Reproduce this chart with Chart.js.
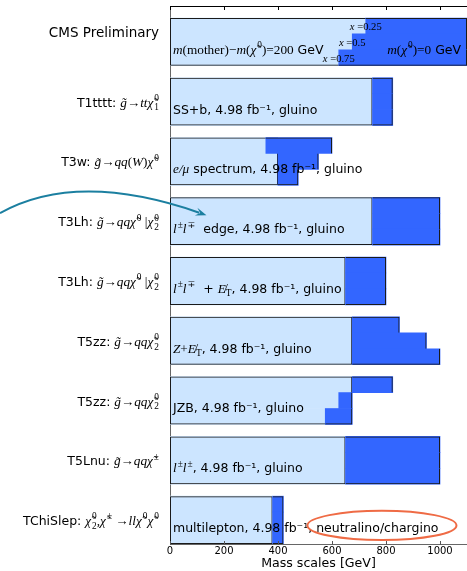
<!DOCTYPE html>
<html><head><meta charset="utf-8">
<script src="https://cdn.jsdelivr.net/npm/chart.js@4.4.1/dist/chart.umd.min.js"></script>
<style>html,body{margin:0;padding:0;background:#fff;overflow:hidden}#wrap{width:467px;height:571px;position:relative}</style>
</head><body><div id="wrap"><canvas id="c" width="467" height="571"></canvas></div>
<script>
// ---------- data ----------
const rowLabels = [
  [["CMS Preliminary","b"]],
  [["T1tttt: ","s"],["g̃","m"],["→","r"],["tt","m"],["χ̃","m"],["0|1","ss"]],
  [["T3w: ","s"],["g̃","m"],["→","r"],["qq","m"],["(","r"],["W","m"],[")","r"],["χ̃","m"],["0","sup"]],
  [["T3Lh: ","s"],["g̃","m"],["→","r"],["qq","m"],["χ̃","m"],["0","sup"],[" |","r"],["χ̃","m"],["0|2","ss"]],
  [["T3Lh: ","s"],["g̃","m"],["→","r"],["qq","m"],["χ̃","m"],["0","sup"],[" |","r"],["χ̃","m"],["0|2","ss"]],
  [["T5zz: ","s"],["g̃","m"],["→","r"],["qq","m"],["χ̃","m"],["0|2","ss"]],
  [["T5zz: ","s"],["g̃","m"],["→","r"],["qq","m"],["χ̃","m"],["0|2","ss"]],
  [["T5Lnu: ","s"],["g̃","m"],["→","r"],["qq","m"],["χ̃","m"],["±","sup"]],
  [["TChiSlep: ","s"],["χ̃","m"],["0|2","ss"],[",","r"],["χ̃","m"],["±","sup"],[" →","r"],["ll","m"],["χ̃","m"],["0","sup"],["χ̃","m"],["0","sup"]]
];
const barTexts = [
  [["m","m"],["(mother)−","r"],["m","m"],["(","r"],["χ̃","m"],["0","sup"],[")=200","r"],[" GeV","s"]],
  [["SS+b, 4.98 fb⁻¹, gluino","s"]],
  [["e/μ","m"],[" spectrum, 4.98 fb⁻¹, gluino","s"]],
  [["l","m"],["±","sup"],["l","m"],["∓","sup"],["  edge, 4.98 fb⁻¹, gluino","s"]],
  [["l","m"],["±","sup"],["l","m"],["∓","sup"],["  + ","s"],["E̸","m"],["T","sub"],[", 4.98 fb⁻¹, gluino","s"]],
  [["Z","m"],["+","r"],["E̸","m"],["T","sub"],[", 4.98 fb⁻¹, gluino","s"]],
  [["JZB, 4.98 fb⁻¹, gluino","s"]],
  [["l","m"],["±","sup"],["l","m"],["±","sup"],[", 4.98 fb⁻¹, gluino","s"]],
  [["multilepton, 4.98 fb⁻¹, neutralino/chargino","s"]]
];
// limits in GeV, per row, for the three strips (x = 0.25 top, 0.5 middle, 0.75 bottom)
const lightTop = [725, 750, 355, 750, 650, 675, 675, 650, 380];
const lightMid = [675, 750, 400, 750, 650, 675, 625, 650, 380];
const lightBot = [625, 750, 400, 750, 650, 675, 575, 650, 380];
const darkTop  = [1100, 825, 600, 1000, 800, 850, 825, 1000, 420];
const darkMid  = [1100, 825, 550, 1000, 800, 950, 675, 1000, 420];
const darkBot  = [1100, 825, 475, 1000, 800, 1000, 675, 1000, 420];
const lightBox = [1100, 750, 400, 750, 650, 675, 675, 650, 380];
const stripNames = ["0.25", "0.5", "0.75"];
const xTicks = [0, 200, 400, 600, 800, 1000];
const xMax = 1100;
const legendRight = [["m","m"],["(","r"],["χ̃","m"],["0","sup"],[")=0","r"],[" GeV","s"]];
const legendRightEnd = 1078;

// ---------- build ----------
const LIGHT = '#cce5ff', DARK = '#3366ff', EDGE = '#1a1a1a';
const STRIPS = 3;
const stripPos = (r, k) => r + 0.2 + 0.8 * (k + 0.5) / STRIPS;
const lightStrips = [lightTop, lightMid, lightBot];
const darkStrips = [darkTop, darkMid, darkBot];
const lightData = [], darkData = [];
rowLabels.forEach((_, r) => {
  for (let k = 0; k < STRIPS; k++) {
    lightData.push({x: [0, lightStrips[k][r]], y: stripPos(r, k)});
    darkData.push({x: [lightStrips[k][r], darkStrips[k][r]], y: stripPos(r, k)});
  }
});
const boxData = rowLabels.map((_, r) => ({x: [0, lightBox[r]], y: stripPos(r, 1)}));

const FONT_S = '"DejaVu Sans", sans-serif';
const FONT_M = '"Liberation Serif", "DejaVu Serif", serif';
function segFont(t, size) {
  switch (t) {
    case 's': return size + 'px ' + FONT_S;
    case 'b': return (size * 1.08) + 'px ' + FONT_S;
    case 'm': return 'italic ' + (size * 1.06) + 'px ' + FONT_M;
    case 'r': return (size * 1.06) + 'px ' + FONT_M;
    default: return (size * 0.75) + 'px ' + FONT_M;
  }
}
function segWidth(ctx, s, size) {
  ctx.font = segFont(s[1], size);
  if (s[1] === 'ss') { const [a, b] = s[0].split('|'); return Math.max(ctx.measureText(a).width, ctx.measureText(b).width); }
  return ctx.measureText(s[0]).width;
}
function drawRich(ctx, segs, x, y, align, size) {
  const total = segs.reduce((w, s) => w + segWidth(ctx, s, size) + (s[1] === 'sup' || s[1] === 'ss' ? 1 : 0), 0);
  let cx = align === 'right' ? x - total : align === 'center' ? x - total / 2 : x;
  ctx.textAlign = 'left'; ctx.textBaseline = 'alphabetic';
  for (const s of segs) {
    const w = segWidth(ctx, s, size);
    ctx.font = segFont(s[1], size);
    if (s[1] === 'sup') ctx.fillText(s[0], cx + 1, y - size * 0.45);
    else if (s[1] === 'sub') ctx.fillText(s[0], cx, y + size * 0.25);
    else if (s[1] === 'ss') { const [a, b] = s[0].split('|'); ctx.fillText(a, cx + 1, y - size * 0.45); ctx.fillText(b, cx + 1, y + size * 0.3); }
    else ctx.fillText(s[0], cx, y);
    cx += w + (s[1] === 'sup' || s[1] === 'ss' ? 1 : 0);
  }
}

const textPlugin = {
  id: 'texts',
  afterDatasetsDraw(chart) {
    const ctx = chart.ctx, xs = chart.scales.x, ys = chart.scales.y, area = chart.chartArea;
    const unit = Math.abs(ys.getPixelForValue(1) - ys.getPixelForValue(0));
    ctx.save();
    ctx.fillStyle = '#000';
    rowLabels.forEach((segs, r) => {
      const cy = ys.getPixelForValue(stripPos(r, 1));
      const off = r === 0 ? -0.17 * unit : 0;
      drawRich(ctx, segs, area.left - 11, cy + off + 5, 'right', 12.5);
      drawRich(ctx, barTexts[r], xs.getPixelForValue(0) + 3, cy + 0.2 * unit, 'left', 12.5);
    });
    // legend row extras
    const cy0 = ys.getPixelForValue(stripPos(0, 1));
    drawRich(ctx, legendRight, xs.getPixelForValue(legendRightEnd), cy0 + 0.2 * unit, 'right', 12.5);
    stripNames.forEach((nm, k) => {
      const y = ys.getPixelForValue(stripPos(0, k));
      drawRich(ctx, [["x","m"],[" =" + nm, "r"]], xs.getPixelForValue(lightStrips[k][0]), y + 4, 'center', 10);
    });
    ctx.restore();
  },
  afterDraw(chart) {
    const ctx = chart.ctx, xs = chart.scales.x, ys = chart.scales.y, area = chart.chartArea;
    ctx.save();
    // top spine and ticks
    ctx.strokeStyle = '#000'; ctx.lineWidth = 1;
    ctx.beginPath();
    ctx.moveTo(area.left, area.top + 0.5); ctx.lineTo(area.right, area.top + 0.5);
    xTicks.forEach(v => {
      const px = Math.round(xs.getPixelForValue(v)) + 0.5;
      ctx.moveTo(px, area.top); ctx.lineTo(px, area.top + 4);
    });
    ctx.stroke();
    ctx.strokeStyle = '#555';
    ctx.beginPath();
    xTicks.forEach(v => {
      const px = Math.round(xs.getPixelForValue(v)) + 0.5;
      ctx.moveTo(px, area.bottom - 3); ctx.lineTo(px, area.bottom + 1);
    });
    ctx.stroke();
    // annotation: ellipse
    const unit = Math.abs(ys.getPixelForValue(1) - ys.getPixelForValue(0));
    const ex = xs.getPixelForValue(785), ey = ys.getPixelForValue(stripPos(8, 1)) + 0.09 * unit;
    const rx = xs.getPixelForValue(785 + 276) - ex;
    ctx.strokeStyle = '#ef6b45'; ctx.lineWidth = 2;
    ctx.beginPath(); ctx.ellipse(ex, ey, rx, 0.245 * unit, 0, 0, Math.PI * 2); ctx.stroke();
    // annotation: curved arrow
    const tx = xs.getPixelForValue(135), ty = ys.getPixelForValue(stripPos(3, 1)) - 0.1 * unit;
    const sx = 0, sy = ty - 2, cxp = 77, cyp = ty - 45;
    ctx.strokeStyle = '#1b7fa0'; ctx.fillStyle = '#1b7fa0'; ctx.lineWidth = 2;
    const ang = Math.atan2(ty - cyp, tx - cxp), hl = 11, hw = 4;
    const bx = tx - hl * Math.cos(ang) * 0.7, by = ty - hl * Math.sin(ang) * 0.7;
    ctx.beginPath(); ctx.moveTo(sx, sy); ctx.quadraticCurveTo(cxp, cyp, bx, by); ctx.stroke();
    ctx.beginPath();
    ctx.moveTo(tx, ty);
    ctx.lineTo(tx - hl * Math.cos(ang) + hw * Math.sin(ang), ty - hl * Math.sin(ang) - hw * Math.cos(ang));
    ctx.lineTo(tx - hl * Math.cos(ang) * 0.6, ty - hl * Math.sin(ang) * 0.6);
    ctx.lineTo(tx - hl * Math.cos(ang) - hw * Math.sin(ang), ty - hl * Math.sin(ang) + hw * Math.cos(ang));
    ctx.closePath(); ctx.fill();
    ctx.restore();
  }
};

new Chart(document.getElementById('c'), {
  type: 'bar',
  data: {
    datasets: [
      {label: 'light', data: lightData, backgroundColor: LIGHT, borderWidth: 0, grouped: false, order: 5, barPercentage: 1, categoryPercentage: 1},
      {label: 'box', data: boxData, backgroundColor: 'rgba(0,0,0,0)', borderColor: EDGE, borderWidth: 1, borderSkipped: false, grouped: false, order: 4, barPercentage: 3, categoryPercentage: 1, inflateAmount: 0},
      {label: 'dark', data: darkData, backgroundColor: DARK, borderWidth: 0, grouped: false, order: 3, barPercentage: 1, categoryPercentage: 1},
      {label: 'darkEdge', data: darkData, backgroundColor: 'rgba(0,0,0,0)', borderColor: EDGE, borderSkipped: false, grouped: false, order: 2, barPercentage: 1, categoryPercentage: 1, inflateAmount: 0,
        borderWidth: (c) => { const k = c.dataIndex % STRIPS; return {top: k === 0 ? 1 : 0, right: 1, bottom: k === STRIPS - 1 ? 1 : 0, left: 0}; }}
    ]
  },
  options: {
    indexAxis: 'y',
    responsive: false,
    animation: false,
    layout: {padding: {top: 6, right: 0, left: 0, bottom: 0}},
    plugins: {legend: {display: false}, tooltip: {enabled: false}},
    scales: {
      x: {
        type: 'linear', position: 'bottom', min: 0, max: xMax, offset: false,
        afterBuildTicks: (s) => { s.ticks = xTicks.map(v => ({value: v})); },
        ticks: {callback: (v) => String(v), font: {family: 'DejaVu Sans', size: 10}, color: '#000', padding: 1, maxRotation: 0, autoSkip: false},
        grid: {display: false, drawTicks: false},
        border: {display: true, color: '#666', width: 1},
        title: {display: true, text: 'Mass scales [GeV]', font: {family: 'DejaVu Sans', size: 12.6}, color: '#000', padding: {top: 0, bottom: 0}},
        afterFit: (s) => { s.height = 27; }
      },
      y: {
        type: 'linear', min: 0, max: 9, reverse: true, offset: false,
        ticks: {display: false, stepSize: 1},
        grid: {display: false, drawTicks: false, offset: false},
        border: {display: true, color: '#666', width: 1},
        afterFit: (s) => { s.width = 170; }
      }
    }
  },
  plugins: [textPlugin]
});
</script>
</body></html>
